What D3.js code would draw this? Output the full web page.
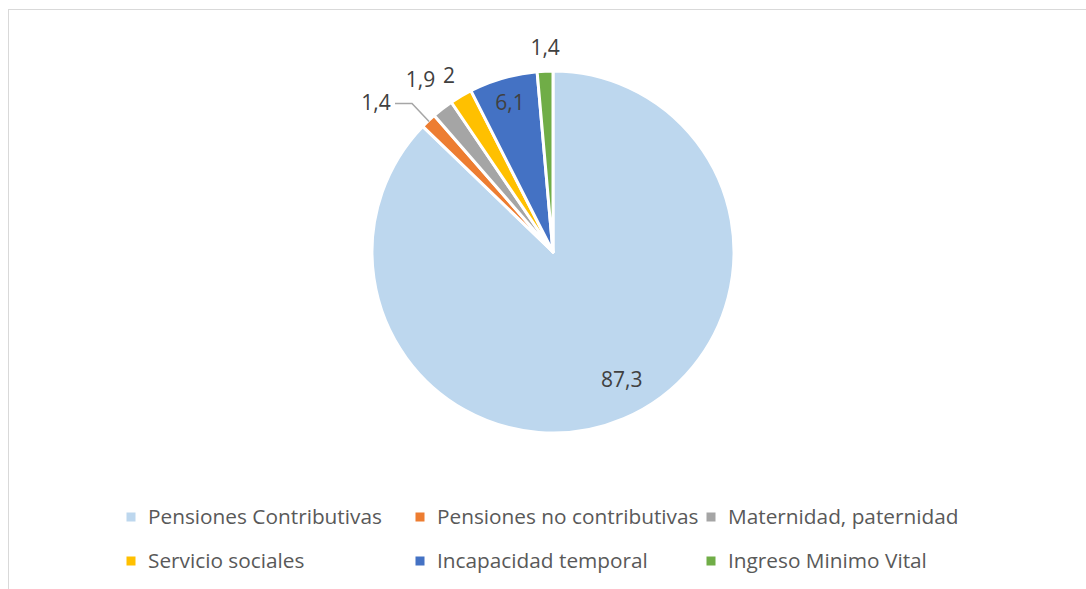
<!DOCTYPE html>
<html><head><meta charset="utf-8">
<script src="https://cdn.jsdelivr.net/npm/d3@7"></script>
<style>body{margin:0;background:#fff;} svg{display:block;font-family:"Open Sans", sans-serif;}</style>
</head><body>
<svg id="c" width="1086" height="589"></svg>
<script>
const categories = ["Pensiones Contributivas","Pensiones no contributivas","Maternidad, paternidad","Servicio sociales","Incapacidad temporal","Ingreso Minimo Vital"];
const values = [87.3, 1.4, 1.9, 2, 6.1, 1.4];
const labels = ["87,3","1,4","1,9","2","6,1","1,4"];
const colors = ["#bdd7ee","#ed7d31","#a5a5a5","#ffc000","#4472c4","#70ad47"];
// label placement (angle offset in degrees, radius factor) — Excel best fit
const labelAngleShift = [-5.3, -6.3, 0, 0, 0, 0.3];
const labelRadius = [0.80, 1.28, 1.20, 1.13, 0.86, 1.13];

const svg = d3.select("#c");
svg.append("rect").attr("x",8.5).attr("y",9.5).attr("width",1100).attr("height",600)
  .attr("fill","none").attr("stroke","#d9d9d9").attr("stroke-width",1);

const cx = 553, cy = 252, R = 181;
const g = svg.append("g").attr("transform",`translate(${cx},${cy})`);
const pie = d3.pie().sort(null).value(d=>d)(values);
const arc = d3.arc().innerRadius(0).outerRadius(R);
g.selectAll("path").data(pie).join("path")
  .attr("d",arc).attr("fill",(d,i)=>colors[i])
  .attr("stroke","#fff").attr("stroke-width",3).attr("stroke-linejoin","round");

function pos(d,i){
  const a = (d.startAngle+d.endAngle)/2 + labelAngleShift[i]*Math.PI/180;
  const r = R*labelRadius[i];
  return [Math.sin(a)*r, -Math.cos(a)*r];
}
g.selectAll("text.lbl").data(pie).join("text").attr("class","lbl")
  .attr("x",(d,i)=>pos(d,i)[0]).attr("y",(d,i)=>pos(d,i)[1])
  .attr("text-anchor","middle").attr("dy","0.36em")
  .attr("font-size",21).attr("fill","#404040").text((d,i)=>labels[i]);

// leader line for the orange slice
{
  const d = pie[1];
  const a = (d.startAngle+d.endAngle)/2;
  const p = pos(d,1);
  const edge = [Math.sin(a)*(R-1), -Math.cos(a)*(R-1)];
  const x0 = p[0]+19, y0 = p[1]+1;
  g.append("path").attr("d",`M${x0},${y0}L${x0+17},${y0}L${edge[0]},${edge[1]}`)
    .attr("fill","none").attr("stroke","#a6a6a6").attr("stroke-width",1.5);
}

// legend
const cols = [131, 420, 711], rows = [517, 561];
const lg = svg.append("g");
categories.forEach((c,i)=>{
  const x = cols[i%3], y = rows[Math.floor(i/3)];
  lg.append("rect").attr("x",x-4.5).attr("y",y-4.5).attr("width",9).attr("height",9).attr("fill",colors[i]);
  lg.append("text").attr("x",x+17).attr("y",y).attr("dy","0.36em").attr("font-size",20.8).attr("fill","#595959").text(c);
});
</script>
</body></html>
